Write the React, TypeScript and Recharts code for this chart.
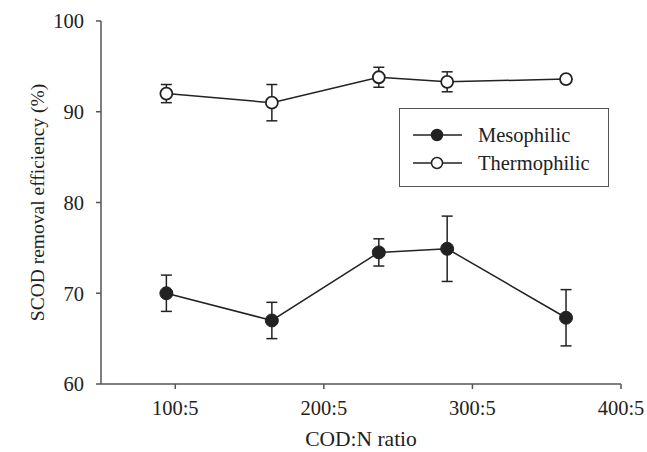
import {
  ErrorBar,
  Label,
  Line,
  LineChart,
  XAxis,
  YAxis,
} from 'recharts'

// COD:N ratio expressed as the COD part (x:5)
const ratios = [94, 165, 237, 283, 363]
const mesophilic = [70, 67, 74.5, 74.9, 67.3]
const mesophilicErr = [2, 2, 1.5, 3.6, 3.1]
const thermophilic = [92, 91, 93.8, 93.3, 93.6]
const thermophilicErr = [1, 2, 1.1, 1.1, 0]

const xTicks = [100, 200, 300, 400]
const yTicks = [60, 70, 80, 90, 100]

const data = ratios.map((x, i) => ({
  x,
  meso: mesophilic[i],
  mesoErr: mesophilicErr[i],
  thermo: thermophilic[i],
  thermoErr: thermophilicErr[i],
}))

const FONT = '"Liberation Serif", "Times New Roman", serif'
const AXIS = '#555'
const INK = '#222'

// legend drawn as an overlay so it does not eat into the plot area
function LegendBox() {
  const rows = [
    { name: 'Mesophilic', fill: INK },
    { name: 'Thermophilic', fill: '#fff' },
  ]
  return (
    <div
      style={{
        position: 'absolute',
        left: 399,
        top: 108,
        border: `1.5px solid ${AXIS}`,
        background: '#fff',
        width: 210,
        height: 79,
        boxSizing: 'border-box',
        padding: '12px 0 0 12px',
        fontFamily: FONT,
        fontSize: 20.5,
        color: INK,
      }}
    >
      {rows.map((r) => (
        <div key={r.name} style={{ display: 'flex', alignItems: 'center', height: 28 }}>
          <svg width={52} height={16} style={{ marginRight: 14 }}>
            <line x1={1} y1={8} x2={50} y2={8} stroke={INK} strokeWidth={1.5} />
            <circle cx={25} cy={8} r={5.5} fill={r.fill} stroke={INK} strokeWidth={1.5} />
          </svg>
          <span>{r.name}</span>
        </div>
      ))}
    </div>
  )
}

export default function App() {
  return (
    <div style={{ position: 'absolute', left: 0, top: 0, width: 647, height: 452, background: '#fff' }}>
      <LineChart
        width={647}
        height={452}
        data={data}
        margin={{ top: 21, right: 26, bottom: 0, left: 0 }}
      >
        <XAxis
          dataKey="x"
          type="number"
          domain={[50, 400]}
          ticks={xTicks}
          tickFormatter={(v) => `${v}:5`}
          stroke={AXIS}
          strokeWidth={1.5}
          tickSize={5}
          tickMargin={11}
          height={68}
          tick={{ fill: INK, fontFamily: FONT, fontSize: 20.5 }}
        >
          <Label
            value="COD:N ratio"
            position="insideBottom"
            offset={6}
            style={{ fill: INK, fontFamily: FONT, fontSize: 21.5 }}
          />
        </XAxis>
        <XAxis
          xAxisId="top"
          dataKey="x"
          type="number"
          domain={[50, 400]}
          orientation="top"
          tick={false}
          tickLine={false}
          stroke={AXIS}
          strokeWidth={1.5}
          height={0}
        />
        <YAxis
          type="number"
          domain={[60, 100]}
          ticks={yTicks}
          stroke={AXIS}
          strokeWidth={1.5}
          tickSize={5}
          tickMargin={12}
          width={101}
          tick={{ fill: INK, fontFamily: FONT, fontSize: 20.5 }}
        >
          <Label
            value="SCOD removal efficiency (%)"
            angle={-90}
            position="insideLeft"
            offset={37}
            style={{ fill: INK, fontFamily: FONT, fontSize: 19.5, textAnchor: 'middle' }}
          />
        </YAxis>
        <YAxis
          yAxisId="right"
          orientation="right"
          domain={[60, 100]}
          tick={false}
          tickLine={false}
          stroke={AXIS}
          strokeWidth={1.5}
          width={0}
        />
        <Line
          dataKey="meso"
          name="Mesophilic"
          stroke={INK}
          strokeWidth={1.5}
          dot={{ r: 6.5, fill: INK, stroke: INK, strokeWidth: 1 }}
          activeDot={false}
          isAnimationActive={false}
        >
          <ErrorBar dataKey="mesoErr" direction="y" width={5.5} stroke={INK} strokeWidth={1.5} />
        </Line>
        <Line
          dataKey="thermo"
          name="Thermophilic"
          stroke={INK}
          strokeWidth={1.5}
          dot={{ r: 6, fill: '#fff', stroke: INK, strokeWidth: 1.8 }}
          activeDot={false}
          isAnimationActive={false}
        >
          <ErrorBar dataKey="thermoErr" direction="y" width={5.5} stroke={INK} strokeWidth={1.5} />
        </Line>
      </LineChart>
      <LegendBox />
    </div>
  )
}
